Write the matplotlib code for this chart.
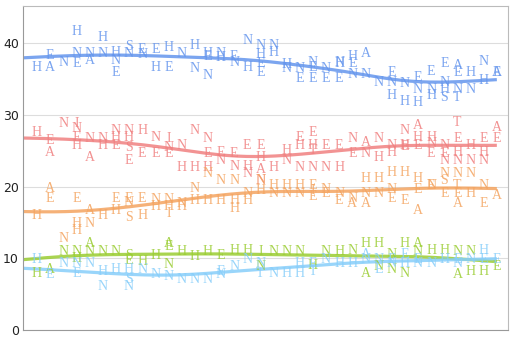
import numpy as np
import matplotlib.pyplot as plt

# letters drawn at each of the 36 x positions, and their values
blue_letters = ["H", "AE", "N", "HNE", "NA", "HN", "HNE", "SN", "EN", "EH",
                "HE", "N", "HN", "HEN", "NH", "EN", "NH", "NHEE", "NH", "NH",
                "NE", "NEE", "NE", "NEH", "HEN", "AN", "N", "ENH", "NH", "ENH",
                "ENH", "ENSH", "AENT", "HN", "NH", "EA"]
blue_values = [[36.6], [36.6, 38.3], [37.3], [41.6, 38.6, 37.2], [38.6, 37.6],
               [40.8, 38.6], [38.7, 37.6, 35.9], [39.5, 38.6], [39.2, 38.5], [39.2, 36.6],
               [39.4, 36.6], [38.6], [39.7, 36.5], [38.6, 38.2, 35.5], [38.6, 38.0],
               [38.2, 37.3], [40.4, 36.6], [39.7, 38.4, 37.2, 35.9], [39.7, 38.7], [36.5, 37.0],
               [36.5, 35.1], [37.3, 36.6, 35.1], [36.5, 35.1], [37.3, 35.1, 37.2], [38.2, 37.2, 35.6],
               [38.6, 35.7], [34.5], [35.9, 34.5, 32.7], [34.4, 31.9], [35.2, 33.6, 31.8],
               [36.1, 33.6, 32.7], [37.2, 34.5, 32.4, 33.6], [36.9, 35.9, 33.6, 32.4], [35.9, 33.6], [37.5, 34.8],
               [35.9, 35.9]]

red_letters = ["H", "EA", "N", "INEH", "NA", "NH", "NHE", "NHSE", "HE", "NE",
               "INE", "NH", "NH", "NEH", "EN", "EN", "EHN", "EHAN", "H", "HN",
               "EHN", "EHTN", "EN", "EH", "NE", "AN", "NH", "NH", "NHE", "AHE",
               "HNE", "NEN", "TEHN", "HN", "EHN", "AE"]
red_values = [[27.6], [26.5, 24.8], [28.8], [28.8, 28.1, 26.9, 25.8], [26.7, 24.1],
              [26.7, 25.8], [27.9, 26.9, 25.8], [27.9, 26.9, 25.5, 23.7], [27.9, 24.6], [26.9, 24.6],
              [26.7, 25.5, 24.6], [25.8, 22.7], [27.9, 22.7], [26.7, 24.6, 22.7], [24.8, 23.7],
              [24.6, 22.8], [25.8, 22.8, 21.9], [25.8, 24.0, 22.4, 20.9], [22.7], [25.1, 23.7],
              [26.9, 25.8, 22.7], [27.6, 25.8, 25.1, 22.7], [25.8, 22.7], [25.8, 22.7], [26.7, 24.6],
              [26.2, 24.6], [26.7, 24.0], [25.8, 24.8], [27.9, 25.8, 25.6], [28.5, 26.9, 25.8],
              [26.9, 26.0, 24.6], [25.8, 24.6, 23.7], [29.0, 26.7, 24.8, 23.7], [25.8, 23.7], [26.7, 24.8, 23.7],
              [28.3, 26.7]]

orange_letters = ["H", "AE", "N", "EHH", "AN", "H", "EH", "ENS", "EH", "NH",
                  "NHI", "NH", "NH", "NH", "NH", "NHH", "NH", "NH", "HN", "HN",
                  "HN", "EIE", "NE", "NE", "NA", "HNA", "HN", "HNE", "HE", "HEA",
                  "NE", "NSE", "NTEA", "NH", "NE", "A"]
orange_values = [[16.0], [19.8, 18.4], [12.8], [18.4, 14.9, 13.9], [16.7, 14.9],
                 [16.0], [18.4, 16.7], [18.4, 17.8, 15.7], [18.4, 16.0], [18.2, 17.2],
                 [18.2, 17.2, 16.3], [17.7, 17.2], [19.8, 18.1], [21.9, 18.1], [20.9, 18.1],
                 [20.9, 18.1, 17.0], [19.1, 18.1], [20.9, 19.5], [20.2, 19.1], [20.2, 19.1],
                 [20.2, 19.1], [20.2, 19.5, 18.6], [19.6, 19.1], [19.0, 18.1], [18.4, 17.6],
                 [21.2, 19.1, 17.6], [21.2, 19.1], [22.0, 19.6, 18.4], [22.0, 18.1], [21.2, 19.6, 16.7],
                 [20.2, 20.2], [21.9, 20.9, 19.0], [21.9, 20.2, 19.0, 17.6], [21.9, 19.0], [20.2, 17.6],
                 [18.8]]

green_letters = ["H", "A", "N", "NH", "AN", "N", "N", "SE", "H", "H",
                 "EAN", "H", "H", "H", "E", "H", "H", "IN", "N", "N",
                 "N", "H", "N", "H", "N", "HA", "HN", "NN", "HN", "AN",
                 "H", "H", "NA", "NH", "H", "E"]
green_values = [[7.9], [8.4], [10.9], [10.9, 10.0], [12.1, 10.9],
                [10.9], [10.9], [10.4, 9.7], [9.5], [10.4],
                [11.6, 12.1, 9.2], [10.9], [10.2], [10.9], [10.4],
                [11.1], [11.1], [10.9, 8.8], [10.9], [10.9],
                [10.9], [9.0], [10.9], [10.9], [11.1],
                [12.1, 7.9], [12.1, 8.8], [10.5, 8.4], [12.1, 7.9], [12.1, 10.9],
                [11.1], [11.1], [10.9, 7.7], [10.9, 8.1], [8.1],
                [8.8]]

sky_letters = ["H", "E", "N", "NE", "N", "HN", "H", "HSN", "N", "N",
               "N", "N", "N", "N", "NE", "N", "N", "NT", "N", "H",
               "HH", "ET", "N", "H", "H", "AN", "NE", "NE", "EH", "EN",
               "N", "H", "EN", "N", "HE", "E"]
sky_values = [[9.8], [7.7], [9.3], [9.3, 7.9], [9.3],
              [8.1, 6.0], [8.4], [8.4, 7.0, 6.0], [8.4], [7.7],
              [7.5], [7.0], [7.0], [7.0], [7.7, 8.1],
              [8.8], [9.9], [9.3, 7.9], [7.9], [7.9],
              [9.3, 7.9], [9.3, 8.1], [9.9], [9.3], [9.3],
              [10.5, 9.9], [9.9, 8.4], [9.3, 9.9], [10.5, 9.3], [9.9, 9.3],
              [9.3], [9.9], [9.9, 9.3], [9.9], [11.1, 9.9],
              [9.9]]

SERIES = [
    (blue_letters, blue_values, "#6495ED"),
    (red_letters, red_values, "#F08080"),
    (orange_letters, orange_values, "#F4A460"),
    (green_letters, green_values, "#9ACD32"),
    (sky_letters, sky_values, "#87CEFA"),
]

Y_TICKS = [0, 10, 20, 30, 40]
XLIM = (-1.07, 35.85)
YLIM = (0, 45.2)
BANDWIDTH = 3.5


def flatten(letters, values):
    xs, ys, ls = [], [], []
    for i, (lab, vals) in enumerate(zip(letters, values)):
        for ch, v in zip(lab, vals):
            xs.append(i)
            ys.append(v)
            ls.append(ch)
    return np.array(xs, float), np.array(ys, float), ls


def kernel_smooth(x, y, grid, bw):
    """Gaussian-weighted moving average of y, evaluated on grid."""
    w = np.exp(-0.5 * ((grid[:, None] - x[None, :]) / bw) ** 2)
    return (w @ y) / w.sum(axis=1)


fig = plt.figure(figsize=(5.16, 3.41), dpi=100)
ax = fig.add_axes([23 / 516, 11 / 341, 485 / 516, 324 / 341])

grid = np.linspace(XLIM[0], 35, 200)
for letters, values, color in SERIES:
    xs, ys, ls = flatten(letters, values)
    for x, y, ch in zip(xs, ys, ls):
        ax.text(x, y, ch, color=color, alpha=0.85, fontsize=10,
                family="Liberation Serif", ha="center", va="center")
    ax.plot(grid, kernel_smooth(xs, ys, grid, BANDWIDTH), color=color,
            lw=2.3, alpha=0.85, solid_capstyle="butt")

ax.set_xlim(*XLIM)
ax.set_ylim(*YLIM)
ax.set_yticks(Y_TICKS)
ax.set_yticklabels([str(t) for t in Y_TICKS])
ax.set_xticks([])
ax.tick_params(axis="y", length=0, pad=3, labelsize=9, labelcolor="#222222")
ax.grid(axis="y", color="#dddddd", lw=0.8)
ax.set_axisbelow(True)
for side in ["left", "bottom"]:
    ax.spines[side].set_color("#999999")
for side in ["top", "right"]:
    ax.spines[side].set_color("#bbbbbb")

fig.savefig("out.png", dpi=100)
